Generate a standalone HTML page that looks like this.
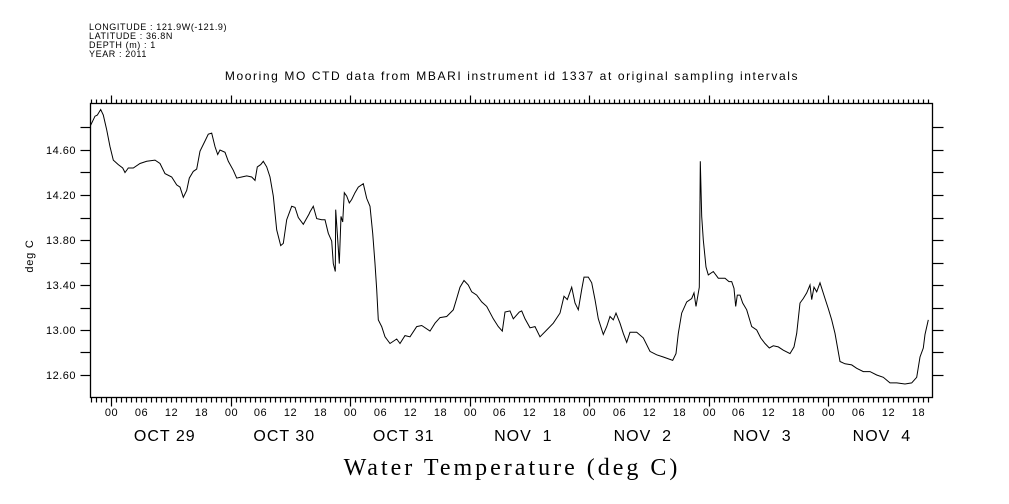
<!DOCTYPE html>
<html><head><meta charset="utf-8"><style>
html,body{margin:0;padding:0;background:#fff}
svg{display:block}
text{font-family:"Liberation Sans",sans-serif;fill:#000}
</style></head><body>
<svg id="chart" width="1009" height="504" viewBox="0 0 1009 504" xmlns="http://www.w3.org/2000/svg">
<g font-size="9" letter-spacing="0.6">
<text x="89" y="30">LONGITUDE : 121.9W(-121.9)</text>
<text x="89" y="39">LATITUDE : 36.8N</text>
<text x="89" y="48">DEPTH (m) : 1</text>
<text x="89" y="57">YEAR : 2011</text>
</g>
<text x="512" y="80" text-anchor="middle" font-size="12" letter-spacing="1.6">Mooring MO CTD data from MBARI instrument id 1337 at original sampling intervals</text>
<text transform="translate(33,256) rotate(-90)" text-anchor="middle" font-size="11" letter-spacing="0.8">deg C</text>
<text x="512" y="475" text-anchor="middle" font-size="24" letter-spacing="3" style="font-family:'Liberation Serif',serif">Water Temperature (deg C)</text>
<rect x="90.5" y="103.5" width="842" height="294" fill="none" stroke="#000" stroke-width="1.3"/>
<g id="axes"></g>
<path id="series" fill="none" stroke="#000" stroke-width="1"/>
</svg>
<script>
const hours=[-4.08,-3.21,-2.75,-2.07,-1.55,-0.86,-0.2,0.46,1.47,2.35,2.81,3.47,4.48,5.82,7.17,8.84,9.84,10.84,12.19,13.19,13.86,14.52,15.2,15.72,16.53,17.21,17.87,18.88,19.54,20.22,20.88,21.43,21.89,22.89,23.55,24.56,25.24,26.24,27.25,28.25,28.92,29.38,30.06,30.58,31.27,31.93,32.59,33.27,34.08,34.6,35.28,36.29,36.95,37.61,38.61,39.76,39.96,40.62,41.3,42.31,42.97,43.63,44.32,44.64,45.04,45.12,45.44,45.84,46.18,46.53,46.85,47.33,47.85,48.33,49.0,49.66,50.66,51.35,52.01,52.55,53.01,53.36,53.68,54.36,55.02,56.02,57.37,58.03,59.04,60.04,61.39,62.39,64.06,65.06,66.07,67.41,68.74,69.42,70.08,70.88,71.75,72.43,73.43,74.44,75.44,76.77,77.77,78.57,79.12,80.12,80.79,81.99,82.47,83.13,84.14,85.14,86.14,87.49,88.82,90.16,90.96,91.63,92.51,93.17,93.84,94.52,94.98,95.84,96.53,97.19,97.85,98.86,99.54,100.2,100.86,101.41,102.21,102.87,103.55,104.22,105.56,106.89,108.23,109.58,110.9,112.79,113.45,113.92,114.6,115.6,116.61,117.07,117.47,118.13,118.33,118.61,118.94,119.48,119.94,120.94,121.95,123.29,124.1,124.64,125.1,125.44,125.76,126.31,126.85,127.65,128.65,129.66,130.46,131.33,132.19,132.99,134.0,135.0,136.35,137.15,137.7,138.35,139.02,139.7,140.36,140.7,141.16,141.71,142.37,143.37,144.04,144.72,145.38,146.39,147.39,148.73,149.74,151.06,152.41,153.75,155.08,156.43,157.77,159.44,160.78,161.79,162.45,163.11,163.45,164.11];
const temps=[14.82,14.90,14.91,14.96,14.91,14.78,14.63,14.51,14.47,14.44,14.40,14.44,14.44,14.48,14.50,14.51,14.48,14.39,14.36,14.29,14.27,14.18,14.24,14.35,14.41,14.43,14.59,14.68,14.74,14.75,14.63,14.56,14.60,14.58,14.50,14.42,14.35,14.36,14.37,14.36,14.33,14.45,14.47,14.50,14.45,14.36,14.19,13.89,13.75,13.77,13.98,14.10,14.09,14.00,13.94,14.03,14.05,14.10,13.99,13.98,13.98,13.86,13.79,13.59,13.52,14.07,13.86,13.59,14.01,13.96,14.22,14.19,14.13,14.16,14.22,14.27,14.30,14.17,14.10,13.86,13.59,13.36,13.09,13.03,12.94,12.88,12.92,12.88,12.95,12.94,13.03,13.04,12.99,13.06,13.11,13.12,13.18,13.28,13.38,13.44,13.40,13.34,13.31,13.25,13.21,13.10,13.03,12.99,13.16,13.17,13.10,13.16,13.17,13.10,13.02,13.03,12.94,13.00,13.06,13.15,13.30,13.27,13.38,13.24,13.18,13.36,13.47,13.47,13.42,13.27,13.10,12.96,13.03,13.12,13.09,13.15,13.06,12.97,12.89,12.98,12.98,12.93,12.81,12.78,12.76,12.73,12.79,12.97,13.15,13.25,13.28,13.33,13.21,13.38,14.50,14.01,13.80,13.56,13.49,13.52,13.46,13.46,13.43,13.43,13.37,13.21,13.31,13.31,13.24,13.18,13.03,13.00,12.93,12.88,12.84,12.86,12.85,12.82,12.79,12.85,12.97,13.24,13.28,13.33,13.40,13.27,13.38,13.34,13.42,13.28,13.19,13.09,12.97,12.72,12.70,12.69,12.66,12.63,12.63,12.60,12.58,12.53,12.53,12.52,12.53,12.58,12.76,12.84,12.96,13.09];
const yTickValues=[12.6,12.8,13.0,13.2,13.4,13.6,13.8,14.0,14.2,14.4,14.6,14.8];
const yTickLabels=["12.60","13.00","13.40","13.80","14.20","14.60"];
const hourLabels=["00","06","12","18"];
const dayLabels=["OCT 29","OCT 30","OCT 31","NOV  1","NOV  2","NOV  3","NOV  4"];

const X0=90.5,X1=932.5,Y0=103.5,Y1=397.5,HMIN=-4.08,HMAX=165;
const PXH=4.98, ZERO=111;
function xs(h){return ZERO+h*PXH;}
function ys(t){return 330-(t-13.0)*112.5;}
const NS="http://www.w3.org/2000/svg";
const ax=document.getElementById('axes');
function ln(x1,y1,x2,y2,name){const l=document.createElementNS(NS,'line');l.setAttribute('x1',x1);l.setAttribute('y1',y1);l.setAttribute('x2',x2);l.setAttribute('y2',y2);l.setAttribute('stroke','#000');l.setAttribute('stroke-width','1.2');


ax.appendChild(l);return l;}
function tx(x,y,s,size,anchor,name,ls){const t=document.createElementNS(NS,'text');t.setAttribute('x',x);t.setAttribute('y',y);t.setAttribute('font-size',size);t.setAttribute('text-anchor',anchor);if(ls)t.setAttribute('letter-spacing',ls);t.textContent=s;t.style.whiteSpace='pre';


ax.appendChild(t);return t;}
for(let h=Math.ceil(HMIN);h<=HMAX;h++){const x=Math.round(xs(h))+0.5;if(x<X0||x>X1)continue;const major=((h%24)+24)%24===0;
ln(x,Y0,x,Y0-(major?8:4),'top-tick');
ln(x,Y1,x,Y1+(major?9:5),'bottom-tick');
if(h%6===0){tx(x,416,hourLabels[((h/6)%4+4)%4],11,'middle','hour-label','0.5');}}
dayLabels.forEach((d,i)=>{tx(xs(i*24+12)-6,441,d,16,'middle','date-label','1');});
yTickValues.forEach(v=>{const y=Math.round(ys(v))+0.5;ln(X0-10,y,X0,y,'y-tick-left');ln(X1,y,X1+11,y,'y-tick-right');});
yTickLabels.forEach(s=>{tx(76,ys(parseFloat(s))+4,s,11,'end','y-tick-label','0.5');});
let d='';hours.forEach((h,i)=>{d+=(i?'L':'M')+xs(h).toFixed(1)+','+ys(temps[i]).toFixed(1);});
document.getElementById('series').setAttribute('d',d);
</script>
</body></html>
